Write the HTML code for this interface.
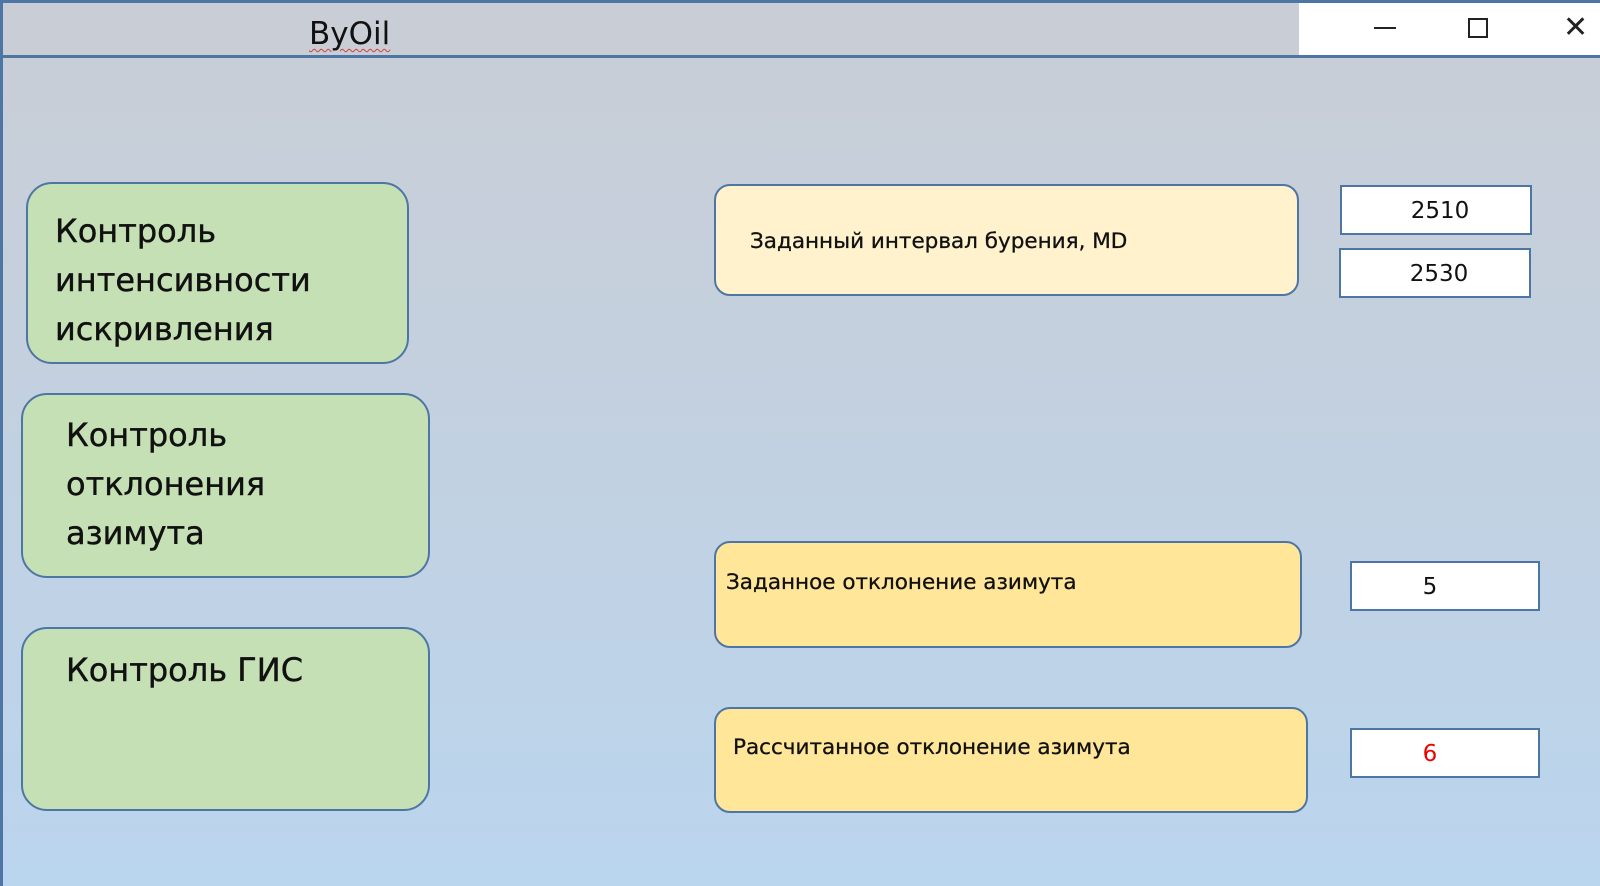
<!DOCTYPE html>
<html><head><meta charset="utf-8"><style>
*{margin:0;padding:0;box-sizing:border-box}
body{width:1600px;height:886px;overflow:hidden;position:relative;font-family:"DejaVu Sans","Liberation Sans",sans-serif;background:linear-gradient(#c9ced6 0%,#c4d0de 40%,#bad5ee 100%);}
.bar{position:absolute;left:0;top:0;width:1600px;height:58px;background:#c9ced6;border-top:3px solid #4e76a4;border-bottom:3px solid #4e76a4;border-left:3px solid #4e76a4}
.win{position:absolute;left:1299px;top:3px;width:301px;height:52px;background:#fff}
.abs{position:absolute}
.g{position:absolute;background:#c5e0b4;border:2.5px solid #4e76a4;border-radius:26px;font-size:32px;line-height:49px;color:#111;-webkit-text-stroke:0.4px #111}
.y{position:absolute;border:2.5px solid #4e76a4;border-radius:16px;font-size:21.5px;color:#111;-webkit-text-stroke:0.3px #111}
.in{position:absolute;background:#fff;border:2.5px solid #4e76a4;font-size:23px;text-align:center;color:#111}
.lb{position:absolute;left:0;top:56px;width:3px;height:830px;background:#4e76a4}
</style></head><body>
<div class="bar"></div><div class="lb"></div>
<div class="win"></div>
<div class="abs" style="left:309px;top:16px;font-size:31px;color:#111;text-decoration:underline wavy #d04040 1px;text-underline-offset:4px">ByOil</div>
<div class="abs" style="left:1374px;top:27px;width:22px;height:2px;background:#222"></div>
<div class="abs" style="left:1468px;top:18px;width:20px;height:20px;border:2px solid #222"></div>
<div class="abs" style="left:1563px;top:13px;font-size:30px;color:#222;line-height:30px">✕</div>

<div class="g" style="left:26px;top:182px;width:383px;height:182px;padding:23px 0 0 27px">Контроль<br>интенсивности<br>искривления</div>
<div class="g" style="left:21px;top:393px;width:409px;height:185px;padding:16px 0 0 43px">Контроль<br>отклонения<br>азимута</div>
<div class="g" style="left:21px;top:627px;width:409px;height:184px;padding:17px 0 0 43px">Контроль ГИС</div>

<div class="y" style="left:714px;top:184px;width:585px;height:112px;background:#fff2cc;padding:43px 0 0 34px">Заданный интервал бурения, MD</div>
<div class="y" style="left:714px;top:541px;width:588px;height:107px;background:#ffe699;padding:27px 0 0 10px">Заданное отклонение азимута</div>
<div class="y" style="left:714px;top:707px;width:594px;height:106px;background:#ffe699;padding:26px 0 0 17px">Рассчитанное отклонение азимута</div>

<div class="in" style="left:1340px;top:185px;width:192px;height:50px;line-height:48px;padding-left:8px">2510</div>
<div class="in" style="left:1339px;top:248px;width:192px;height:50px;line-height:48px;padding-left:8px">2530</div>
<div class="in" style="left:1350px;top:561px;width:190px;height:50px;line-height:48px;padding-right:30px">5</div>
<div class="in" style="left:1350px;top:728px;width:190px;height:50px;line-height:48px;padding-right:30px;color:#e00">6</div>
</body></html>
